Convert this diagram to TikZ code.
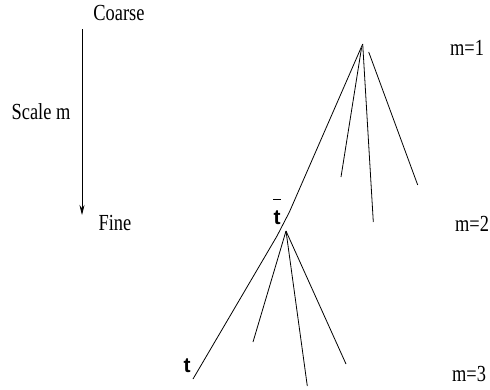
\documentclass[tikz,border=0pt]{standalone}
\usepackage{fontspec}
\setmainfont{Liberation Serif}
\setsansfont{Liberation Sans}
\usetikzlibrary{arrows.meta}
\begin{document}
\begin{tikzpicture}[x=1pt,y=-1pt,
  lbl/.style={inner sep=0pt,font=\fontsize{23}{27}\selectfont,xscale=0.8},
  tlbl/.style={inner sep=0pt,font=\fontsize{21}{25}\selectfont\sffamily\bfseries},
  br/.style={line width=0.8pt},
  scalearrow/.style={line width=0.8pt,-{Stealth[length=10pt,width=5pt]}}]
\useasboundingbox (0,0) rectangle (490,389);
% labels
\node[lbl] (coarse) at (119,13) {Coarse};
\node[lbl] (scale) at (41,112) {Scale m};
\node[lbl] (fine) at (115,223) {Fine};
\node[lbl] (m1) at (467,48) {m=1};
\node[lbl] (m2) at (472,224) {m=2};
\node[lbl] (m3) at (469,374) {m=3};
\node[tlbl] (tbar) at (277,218) {t};
\node[tlbl] (t) at (187,366) {t};
\draw[line width=1pt] (273,199) -- (281,199);
% scale arrow
\coordinate (atop) at (82,29);
\coordinate (abot) at (82,215);
\draw[scalearrow] (atop) -- (abot);
% upper tree
\coordinate (A1) at (362.7,44);
\coordinate (a1b) at (361.5,48);
\coordinate (a1c) at (368.7,52);
\coordinate (e1) at (341,177);
\coordinate (e2) at (373.3,222);
\coordinate (e3) at (417.7,185);
\coordinate (tend) at (193,379);
\draw[br] (A1) -- (289.4,212) .. controls (284,224) .. (277,236) -- (tend);
\draw[br] (a1b) -- (e1);
\draw[br] (A1) -- (e2);
\draw[br] (a1c) -- (e3);
% lower tree
\coordinate (A2) at (286,231);
\coordinate (f1) at (253,342);
\coordinate (f2) at (307.3,386);
\coordinate (f3) at (346,364);
\draw[br] (A2) -- (f1);
\draw[br] (A2) -- (f2);
\draw[br] (A2) -- (f3);
\end{tikzpicture}
\end{document}
